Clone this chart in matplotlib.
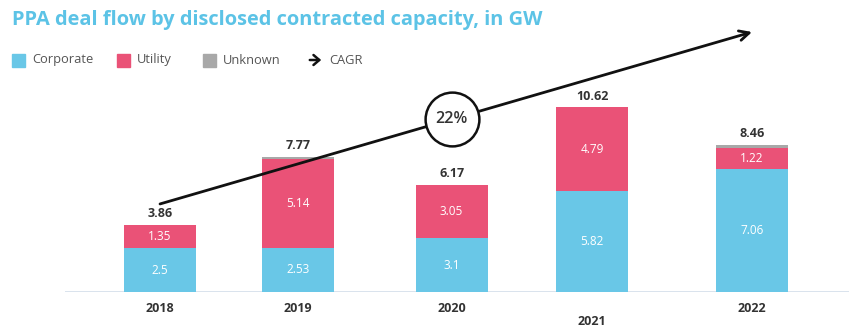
import matplotlib
matplotlib.use("Agg")
import matplotlib.pyplot as plt
import matplotlib.patches as mpatches
import numpy as np

# PPA deal flow, GW
years = ["2018", "2019", "2020", "2021", "2022"]
corporate = [2.5, 2.53, 3.1, 5.82, 7.06]
utility = [1.35, 5.14, 3.05, 4.79, 1.22]
totals = [3.86, 7.77, 6.17, 10.62, 8.46]
unknown = [round(t - c - u, 2) for t, c, u in zip(totals, corporate, utility)]
cagr_label = "22%"

# layout
x_pos = np.array([0.0, 0.93, 1.97, 2.92, 4.0])
year_drop = [0, 0, 0, 1, 0]   # 2021 label sits lower
bar_w = 0.486

C_CORP = "#69c7e7"
C_UTIL = "#ea5277"
C_UNK = "#a8a8a8"
C_TITLE = "#5cc3e6"
C_TEXT = "#333333"
FONT = "Open Sans"

plt.rcParams["font.family"] = [FONT, "DejaVu Sans"]

fig = plt.figure(figsize=(8.49, 3.29), dpi=100)
ax = fig.add_axes([65 / 849, 37 / 329, 784 / 849, 272 / 329])
ax.set_xlim(-0.642, 4.655)
ax.set_ylim(0, 15.63)
ax.axis("off")

# baseline
ax.axhline(0, color="#d3deea", lw=1.2, zorder=1)

corp = np.array(corporate)
util = np.array(utility)
unk = np.array(unknown)
ax.bar(x_pos, corp, bar_w, color=C_CORP, zorder=2)
ax.bar(x_pos, util, bar_w, bottom=corp, color=C_UTIL, zorder=2)
ax.bar(x_pos, unk, bar_w, bottom=corp + util, color=C_UNK, zorder=2)

for x, c, u, t, yr, d in zip(x_pos, corp, util, totals, years, year_drop):
    ax.text(x, c / 2, f"{c:g}", ha="center", va="center",
            color="white", fontsize=8.5, zorder=3)
    ax.text(x, c + u / 2, f"{u:g}", ha="center", va="center",
            color="white", fontsize=8.5, zorder=3)
    ax.text(x, t + 0.25, f"{t:.2f}", ha="center", va="bottom",
            color=C_TEXT, fontsize=9, fontweight="bold", zorder=3)
    ax.text(x, -0.95 - 0.75 * d, yr, ha="center", va="center",
            color=C_TEXT, fontsize=9, fontweight="bold", clip_on=False)

# CAGR arrow across the bars
a0 = (x_pos[0], 5.06)
a1 = (x_pos[-1], 14.94)
ax.annotate("", xy=a1, xytext=a0,
            arrowprops=dict(arrowstyle="->,head_length=0.7,head_width=0.35",
                            color="#111111", lw=2.0, shrinkA=0, shrinkB=0),
            zorder=4, annotation_clip=False)
cx = x_pos[2]
cy = a0[1] + (a1[1] - a0[1]) * (cx - a0[0]) / (a1[0] - a0[0])
ax.scatter([cx], [cy], s=1500, facecolor="white", edgecolor="#111111",
           linewidth=1.8, zorder=5, clip_on=False)
ax.text(cx, cy, cagr_label, ha="center", va="center", color=C_TEXT,
        fontsize=11.5, fontweight="semibold", zorder=6)

# title
fig.text(12 / 849, 1 - 20 / 329, "PPA deal flow by disclosed contracted capacity, in GW",
         ha="left", va="center", color=C_TITLE, fontsize=14.4, fontweight="bold")

# legend row
leg_y = 1 - 60 / 329
items = [("Corporate", C_CORP, 12), ("Utility", C_UTIL, 117), ("Unknown", C_UNK, 203)]
for label, col, px in items:
    fig.patches.append(mpatches.Rectangle((px / 849, leg_y - 6.5 / 329), 13 / 849, 13 / 329,
                                          transform=fig.transFigure, color=col))
    fig.text((px + 20) / 849, leg_y, label, ha="left", va="center",
             color="#555555", fontsize=9.3)
fig.add_artist(mpatches.FancyArrowPatch((307 / 849, leg_y), (324 / 849, leg_y),
                                        transform=fig.transFigure,
                                        arrowstyle="->,head_length=0.35,head_width=0.3",
                                        color="#111111", lw=1.8, mutation_scale=12))
fig.text(329 / 849, leg_y, "CAGR", ha="left", va="center", color="#555555", fontsize=9.3)

fig.savefig("out.png", dpi=100, facecolor="white")
